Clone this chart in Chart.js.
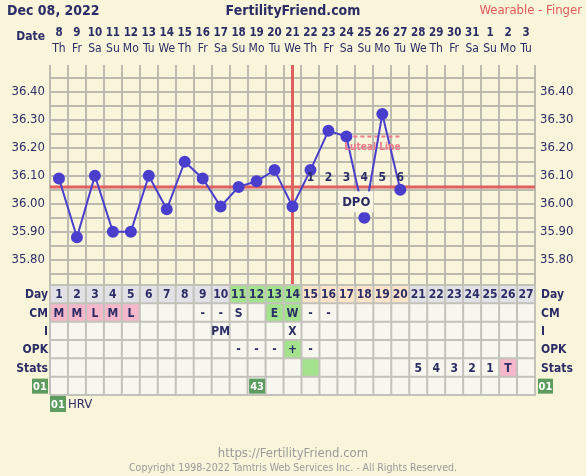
<!DOCTYPE html>
<html>
<head>
<meta charset="utf-8">
<script src="https://cdn.jsdelivr.net/npm/chart.js@4.4.0/dist/chart.umd.min.js"></script>
<style>
html, body { margin: 0; padding: 0; background: #f9f5db; }
#wrap { position: relative; width: 586px; height: 476px; overflow: hidden; font-family: "DejaVu Sans Condensed", "DejaVu Sans", sans-serif; }
canvas { position: absolute; left: 0; top: 0; }
.t { position: absolute; white-space: nowrap; line-height: 1; }
</style>
</head>
<body>
<div id="wrap">
  <canvas id="bbtChart" width="586" height="476"></canvas>
  <div class="t" style="left:7px;top:3px;font-size:14px;font-weight:bold;color:#2c2c66">Dec 08, 2022</div>
  <div class="t" style="left:0;width:586px;top:3px;text-align:center;font-size:14px;font-weight:bold;color:#2c2c66">FertilityFriend.com</div>
  <div class="t" style="right:4px;top:3px;font-size:13px;color:#e05a5a">Wearable - Finger</div>
  <div class="t" style="left:0;width:586px;top:446px;text-align:center;font-size:13px;color:#9a9a9a">https://FertilityFriend.com</div>
  <div class="t" style="left:0;width:586px;top:462px;text-align:center;font-size:10.5px;color:#9a9a9a">Copyright 1998-2022 Tamtris Web Services Inc. - All Rights Reserved.</div>
</div>
<script>
// Données du cycle
const cycleDays = [1,2,3,4,5,6,7,8,9,10,11,12,13,14,15,16,17,18,19,20,21,22,23,24,25,26,27];
const dates = ['8','9','10','11','12','13','14','15','16','17','18','19','20','21','22','23','24','25','26','27','28','29','30','31','1','2','3'];
const weekdays = ['Th','Fr','Sa','Su','Mo','Tu','We','Th','Fr','Sa','Su','Mo','Tu','We','Th','Fr','Sa','Su','Mo','Tu','We','Th','Fr','Sa','Su','Mo','Tu'];
const temps = [36.09, 35.88, 36.10, 35.90, 35.90, 36.10, 35.98, 36.15, 36.09, 35.99, 36.06, 36.08, 36.12, 35.99, 36.12, 36.26, 36.24, 35.95, 36.32, 36.05];
const yTicks = [35.75, 35.80, 35.85, 35.90, 35.95, 36.00, 36.05, 36.10, 36.15, 36.20, 36.25, 36.30, 36.35, 36.40, 36.45];
const coverline = 36.06;
const ovulationDay = 14;
const lutealTemp = 36.24;
const lutealDays = [17, 20];
const dpoDays = [15, 16, 17, 18, 19, 20];
const dpoLabels = ['1','2','3','4','5','6'];
const fertileDays = [11, 12, 13, 14];
const cm = ['M','M','L','M','L','','','','-','-','S','','E','W','-','-','','','','','','','','','','',''];
const intercourse = ['','','','','','','','','','PM','','','','X','','','','','','','','','','','','',''];
const opk = ['','','','','','','','','','','-','-','-','+','-','','','','','','','','','','','',''];
const stats = ['','','','','','','','','','','','','','','','','','','','','5','4','3','2','1','T',''];
const hrvDay = 12;
const hrvValue = '43';

const navy = '#2c2c66';
const gridGray = '#bdbab0';
const fontFam = '"DejaVu Sans Condensed", "DejaVu Sans", sans-serif';

// Tableau sous le graphique + textes
const tablePlugin = {
  id: 'tablePlugin',
  afterDatasetsDraw(chart) {
    const ctx = chart.ctx, x = chart.scales.x, y = chart.scales.y;
    ctx.save();
    // étiquette DPO
    const dx = x.getPixelForValue(17.55), dy = y.getPixelForValue(36.005);
    ctx.fillStyle = '#f8f5e2';
    ctx.fillRect(dx - 17, dy - 11, 34, 21);
    ctx.fillStyle = navy;
    ctx.font = 'bold 13px ' + fontFam;
    ctx.textAlign = 'center';
    ctx.textBaseline = 'middle';
    ctx.fillText('DPO', dx, dy);
    // numéros DPO
    ctx.font = 'bold 12px ' + fontFam;
    dpoDays.forEach((d, i) => ctx.fillText(dpoLabels[i], x.getPixelForValue(d), y.getPixelForValue(36.094)));
    // Luteal Line
    ctx.fillStyle = '#f07a8a';
    ctx.font = 'bold 10px ' + fontFam;
    ctx.fillText('Luteal Line', x.getPixelForValue(18.45), y.getPixelForValue(36.2));
    ctx.restore();
  },
  afterDraw(chart) {
    const ctx = chart.ctx, x = chart.scales.x;
    const area = chart.chartArea;
    ctx.save();
    ctx.textAlign = 'center';
    ctx.textBaseline = 'middle';
    // ligne des dates
    cycleDays.forEach((d, i) => {
      const cx = x.getPixelForValue(d);
      ctx.fillStyle = navy;
      ctx.font = 'bold 11.5px ' + fontFam;
      ctx.fillText(dates[i], cx, 33);
      ctx.font = '12px ' + fontFam;
      ctx.fillText(weekdays[i], cx, 49);
    });
    ctx.font = 'bold 12px ' + fontFam;
    ctx.textAlign = 'right';
    ctx.fillText('Date', 45, 37);

    const top = area.bottom, rh = 18.33;
    const rows = ['Day', 'CM', 'I', 'OPK', 'Stats'];
    const cellBg = (row, d, i) => {
      if (row === 0) {
        if (fertileDays.includes(d)) return '#a4e28e';
        if (dpoDays.includes(d)) return '#fde3c8';
        return '#e2e2e6';
      }
      if (row === 1) {
        if (['M','L','H','S'].includes(cm[i]) && d <= 5) return '#f5b8cb';
        if (cm[i] === 'E' || cm[i] === 'W') return '#a4e28e';
      }
      if (row === 3 && opk[i] === '+') return '#a4e28e';
      if (row === 4) {
        if (d === ovulationDay + 1) return '#a4e28e';
        if (stats[i] === 'T') return '#f5b8cb';
      }
      return '#f7f7f0';
    };
    const rowText = [null, cm, intercourse, opk, stats, null];
    cycleDays.forEach((d, i) => {
      const x0 = x.getPixelForValue(d - 0.5), x1 = x.getPixelForValue(d + 0.5);
      for (let r = 0; r < 6; r++) {
        ctx.fillStyle = cellBg(r, d, i);
        ctx.fillRect(x0, top + r * rh, x1 - x0, rh);
      }
    });
    // bordures
    ctx.strokeStyle = '#c2c2ba';
    ctx.lineWidth = 2;
    ctx.beginPath();
    for (let r = 0; r <= 6; r++) {
      ctx.moveTo(area.left, top + r * rh);
      ctx.lineTo(area.right + 1, top + r * rh);
    }
    for (let d = 0.5; d <= 27.5; d++) {
      const px = x.getPixelForValue(d);
      ctx.moveTo(px, top);
      ctx.lineTo(px, top + 6 * rh);
    }
    ctx.stroke();
    // textes des cellules
    ctx.textAlign = 'center';
    cycleDays.forEach((d, i) => {
      const cx = x.getPixelForValue(d);
      ctx.fillStyle = navy;
      ctx.font = 'bold 12px ' + fontFam;
      ctx.fillText(String(d), cx, top + rh / 2 + 1);
      for (let r = 1; r < 5; r++) {
        const v = rowText[r][i];
        if (v) ctx.fillText(v, cx, top + r * rh + rh / 2 + 1);
      }
    });
    // libellés des lignes
    ctx.font = 'bold 12px ' + fontFam;
    rows.forEach((name, r) => {
      const cy = top + r * rh + rh / 2 + 1;
      ctx.textAlign = 'right';
      ctx.fillText(name, area.left - 2, cy);
      ctx.textAlign = 'left';
      ctx.fillText(name, area.right + 6, cy);
    });
    // badges HRV
    const badge = (bx, by, w, h, txt) => {
      ctx.fillStyle = '#5c9c5e';
      ctx.fillRect(bx, by, w, h);
      ctx.fillStyle = '#ffffff';
      ctx.font = 'bold 11px ' + fontFam;
      ctx.textAlign = 'center';
      ctx.fillText(txt, bx + w / 2, by + h / 2 + 1);
    };
    const by = top + 5 * rh + 2;
    badge(32, by, 16, 15, '01');
    badge(area.right + 3, by, 15, 15, '01');
    const hx0 = x.getPixelForValue(hrvDay - 0.5), hx1 = x.getPixelForValue(hrvDay + 0.5);
    badge(hx0 + 1.5, by, hx1 - hx0 - 2, 15, hrvValue);
    badge(area.left, top + 6 * rh + 1, 16, 16, '01');
    ctx.fillStyle = navy;
    ctx.font = '13px ' + fontFam;
    ctx.textAlign = 'left';
    ctx.fillText('HRV', area.left + 18, top + 6 * rh + 10);
    ctx.restore();
  }
};

const tickLabel = v => (Math.abs(v * 10 - Math.round(v * 10)) < 0.001 ? v.toFixed(2) : '');
const setYTicks = axis => { axis.ticks = yTicks.map(v => ({ value: v })); };

const ctx = document.getElementById('bbtChart').getContext('2d');
const bbtChart = new Chart(ctx, {
  type: 'line',
  data: {
    datasets: [
      {
        label: 'Température',
        data: temps.map((t, i) => ({ x: cycleDays[i], y: t })),
        borderColor: '#4a3fcc',
        backgroundColor: '#4a3fcc',
        borderWidth: 2,
        pointRadius: 5,
        tension: 0
      },
      {
        label: 'Luteal',
        data: lutealDays.map(d => ({ x: d, y: lutealTemp })),
        borderColor: '#f07a8a',
        borderWidth: 2,
        borderDash: [4, 3],
        pointRadius: 0
      },
      {
        label: 'Coverline',
        data: [{ x: 0.5, y: coverline }, { x: 27.5, y: coverline }],
        borderColor: '#e06060',
        borderWidth: 3,
        pointRadius: 0
      },
      {
        label: 'Ovulation',
        data: [{ x: ovulationDay, y: 35.6 }, { x: ovulationDay, y: 36.6 }],
        borderColor: '#e06060',
        borderWidth: 3,
        pointRadius: 0
      }
    ]
  },
  options: {
    responsive: false,
    animation: false,
    events: [],
    layout: { padding: { top: 65, bottom: 191, left: 0, right: 0 } },
    plugins: { legend: { display: false }, tooltip: { enabled: false } },
    scales: {
      x: {
        type: 'linear',
        min: 0.5,
        max: 27.5,
        afterBuildTicks: axis => { axis.ticks = [...Array(28).keys()].map(k => ({ value: k + 0.5 })); },
        afterFit: axis => { axis.height = 0; },
        ticks: { display: false, autoSkip: false },
        grid: { color: gridGray, lineWidth: 2, drawTicks: false },
        border: { display: false }
      },
      y: {
        min: 35.71,
        max: 36.495,
        position: 'left',
        afterBuildTicks: setYTicks,
        afterFit: axis => { axis.width = 50; },
        ticks: { callback: tickLabel, autoSkip: false, padding: 5, color: navy, font: { family: fontFam, size: 13 } },
        grid: { color: gridGray, lineWidth: 2, drawTicks: false },
        border: { display: false }
      },
      y2: {
        min: 35.71,
        max: 36.495,
        position: 'right',
        afterBuildTicks: setYTicks,
        afterFit: axis => { axis.width = 51; },
        ticks: { callback: tickLabel, autoSkip: false, padding: 5, color: navy, font: { family: fontFam, size: 13 } },
        grid: { display: false, drawTicks: false },
        border: { display: false }
      }
    }
  },
  plugins: [tablePlugin]
});
</script>
</body>
</html>
